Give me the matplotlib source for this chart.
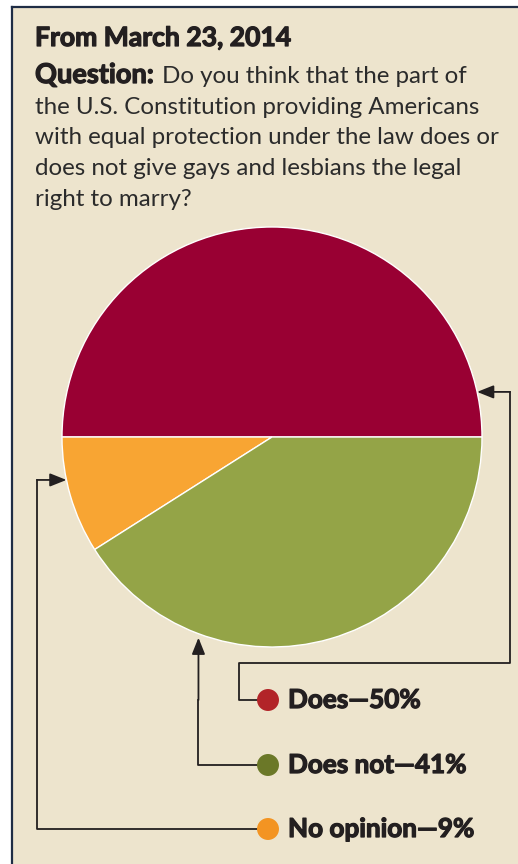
import numpy as np
import matplotlib
matplotlib.use('Agg')
import matplotlib.pyplot as plt
import matplotlib.patheffects as pe

# poll data
labels = ['Does', 'No opinion', 'Does not']
shares = [50, 9, 41]
wedge_colors = ['#990033', '#F8A533', '#94A447']
dot_colors = {'Does': '#B22428', 'Does not': '#6B7828', 'No opinion': '#F39422'}
legend_order = ['Does', 'Does not', 'No opinion']

title = 'From March 23, 2014'
question_lines = ['Do you think that the part of',
                  'the U.S. Constitution providing Americans',
                  'with equal protection under the law does or',
                  'does not give gays and lesbians the legal',
                  'right to marry?']

W, H = 518, 864
BG = '#EDE4CD'
INK = '#231F20'
FONT = 'Lato'

fig = plt.figure(figsize=(W / 100, H / 100), dpi=100)
ax = fig.add_axes([0, 0, 1, 1])
ax.set_xlim(0, W)
ax.set_ylim(0, H)
ax.axis('off')
renderer = fig.canvas.get_renderer()

def Y(y):
    return H - y

def fit_size(s, width, size0, **kw):
    # font size that makes string s about `width` pixels wide
    t = fig.text(0, 0, s, fontsize=size0, family=FONT, **kw)
    w = t.get_window_extent(renderer).width
    t.remove()
    return size0 * width / w

heavy = [pe.withStroke(linewidth=0.9, foreground=INK)]

# panel and border
ax.add_patch(plt.Rectangle((12, 0), W - 12, Y(7), facecolor=BG, edgecolor='none'))
ax.plot([12, 12], [0, Y(7)], color='#1F2D45', lw=1.6)
ax.plot([12, W], [Y(7), Y(7)], color='#1F2D45', lw=1.6)

# header text
fs = fit_size(title, 257, 15, fontweight='bold')
ax.text(35, Y(46), title, fontsize=fs, fontweight='bold', family=FONT,
        color=INK, va='baseline', path_effects=heavy)

qs = fit_size(question_lines[1], 445, 15)
qb = fit_size('Question:', 119, 15, fontweight='bold')
base = 83
step = 30.75
ax.text(35, Y(base), 'Question:', fontsize=qb, fontweight='bold', family=FONT,
        color=INK, va='baseline', path_effects=heavy)
ax.text(162, Y(base), question_lines[0], fontsize=qs, family=FONT,
        color='#2b2b2b', va='baseline')
for i, line in enumerate(question_lines[1:], start=1):
    ax.text(35, Y(base + i * step), line, fontsize=qs, family=FONT,
            color='#2b2b2b', va='baseline')

# pie
cx, cy, r = 272, Y(437), 210
ax.pie(shares, colors=wedge_colors, startangle=0, counterclock=True,
       center=(cx, cy), radius=r, frame=True,
       wedgeprops=dict(edgecolor='white', linewidth=1.0))
ax.set_xlim(0, W)
ax.set_ylim(0, H)
ax.set_aspect('equal')
ax.axis('off')

def rim(deg):
    a = np.deg2rad(deg)
    return cx + r * np.cos(a), cy + r * np.sin(a)

arrow = dict(arrowstyle='-|>,head_length=1.0,head_width=0.4', color=INK, lw=1.3,
             shrinkA=0, shrinkB=0)
lw = 1.3

# legend dots and labels
ls = fit_size('Does\u201450%', 133, 18, fontweight='bold')
rows = {'Does': 700, 'Does not': 765, 'No opinion': 829}
for name in legend_order:
    val = shares[labels.index(name)]
    yy = Y(rows[name])
    ax.scatter([268], [yy], s=250, color=dot_colors[name], zorder=5, edgecolors='none')
    ax.text(288, yy, f'{name}\u2014{val}%', fontsize=ls, fontweight='bold', family=FONT,
            color=INK, va='center', path_effects=heavy)

# connectors
tip = rim(12.4)
ax.plot([258, 239, 239, 510, 510], [Y(700), Y(700), Y(663), Y(663), tip[1]], color=INK, lw=lw)
ax.annotate('', xy=tip, xytext=(510, tip[1]), arrowprops=arrow)

tip = rim(249.5)
ax.plot([258, tip[0], tip[0]], [Y(765), Y(765), Y(700)], color=INK, lw=lw)
ax.annotate('', xy=(tip[0], tip[1] - 4), xytext=(tip[0], Y(700)), arrowprops=arrow)

tip = rim(191.8)
ax.plot([258, 37, 37], [Y(829), Y(829), tip[1]], color=INK, lw=lw)
ax.annotate('', xy=tip, xytext=(37, tip[1]), arrowprops=arrow)

fig.savefig('out.png', dpi=100, facecolor='white')
